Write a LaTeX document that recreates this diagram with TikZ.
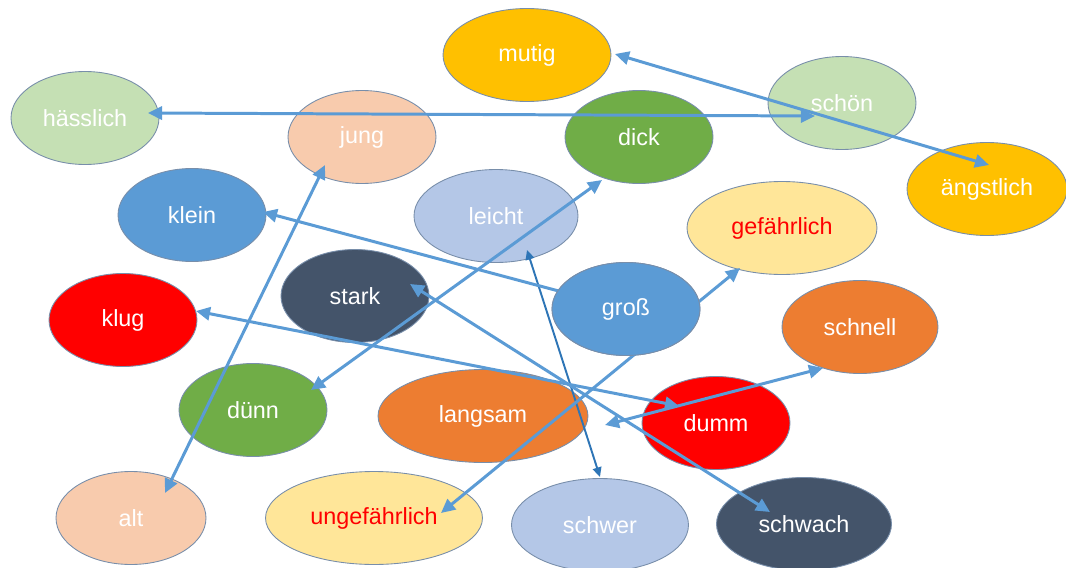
\documentclass[tikz,border=0pt]{standalone}
\usepackage{fontspec}
\setmainfont{Liberation Sans}
\usetikzlibrary{arrows.meta, shapes.geometric, positioning}
\definecolor{GoldFill}{RGB}{255,192,0}
\definecolor{MintFill}{RGB}{197,224,180}
\definecolor{PeachFill}{RGB}{248,203,173}
\definecolor{LeafFill}{RGB}{112,173,71}
\definecolor{SkyFill}{RGB}{91,155,213}
\definecolor{PaleBlue}{RGB}{180,199,231}
\definecolor{SandFill}{RGB}{255,230,153}
\definecolor{SlateFill}{RGB}{68,84,106}
\definecolor{RedFill}{RGB}{255,0,0}
\definecolor{OrangeFill}{RGB}{237,125,49}
\definecolor{EdgeGrey}{RGB}{120,142,170}
\definecolor{ArrowBlue}{RGB}{91,155,213}
\definecolor{ArrowDark}{RGB}{46,117,182}

\begin{document}
\begin{tikzpicture}[x=0.02cm,y=-0.02cm,
    ov/.style={ellipse,draw=EdgeGrey,line width=0.5pt,inner sep=0pt,
               minimum width=2.96cm,minimum height=1.86cm,
               text=white,font=\fontsize{13.3}{16}\selectfont},
    arr/.style={{Triangle[length=8pt,width=7.5pt]}-{Triangle[length=8pt,width=7.5pt]},
               draw=ArrowBlue,line width=1.7pt},
    arrone/.style={-{Triangle[length=8pt,width=7.5pt]},
               draw=ArrowBlue,line width=1.7pt},
    arrthin/.style={{Triangle[length=5.5pt,width=5pt]}-{Triangle[length=5.5pt,width=5pt]},
               draw=ArrowDark,line width=1.1pt}
  ]
    \useasboundingbox (0,0) rectangle (1066,568);
    % top rows
    \node[ov,fill=GoldFill,minimum width=3.36cm] (mutig) at (527,55) {mutig};
    \node[ov,fill=MintFill] (hass) at (85,118) {hässlich};
    \node[ov,fill=PeachFill] (jung) at (362,137) {jung};
    \node[ov,fill=LeafFill] (dick) at (639,137) {dick};
    \node[ov,fill=MintFill] (schoen) at (842,103) {schön};
    \node[ov,fill=GoldFill,minimum width=3.2cm] (angst) at (987,189) {ängstlich};
    \node[ov,fill=SkyFill] (klein) at (192,215) {klein};
    \node[ov,fill=PaleBlue,minimum width=3.28cm] (leicht) at (496,216) {leicht};
    \node[ov,fill=SandFill,text=RedFill,minimum width=3.8cm] (gef) at (782,228) {gefährlich};
    % middle rows
    \node[ov,fill=SlateFill] (stark) at (355,296) {stark};
    \node[ov,fill=RedFill] (klug) at (123,320) {klug};
    \node[ov,fill=OrangeFill,minimum width=3.12cm] (schnell) at (860,327) {schnell};
    \node[ov,fill=LeafFill] (duenn) at (253,410) {dünn};
    \node[ov,fill=OrangeFill,minimum width=4.2cm] (langsam) at (483,416) {langsam};
    \node[ov,fill=RedFill] (dumm) at (716,423) {dumm};
    % bottom row
    \node[ov,fill=PeachFill,minimum width=3.0cm] (alt) at (131,518) {alt};
    \node[ov,fill=SandFill,text=RedFill,minimum width=4.34cm] (ungef) at (374,518) {ungefährlich};
    \node[ov,fill=PaleBlue,minimum width=3.54cm] (schwer) at (600,525) {schwer};
    \node[ov,fill=SlateFill,minimum width=3.5cm] (schwach) at (804,524) {schwach};
    % opposites
    \draw[arr] ([shift={(63,-5)}]hass.center) -- ([shift={(-27,13)}]schoen.center);
    \draw[arr] ([shift={(88,-1)}]mutig.center) -- ([shift={(2,-24)}]angst.center);
    \draw[arr] ([shift={(-37,28)}]jung.center) -- ([shift={(34,-25)}]alt.center);
    \draw[arr] ([shift={(-37,43)}]dick.center) -- ([shift={(58,-20)}]duenn.center);
    \draw[arrthin] ([shift={(31,34)}]leicht.center) -- ([shift={(0,-48)}]schwer.center);
    \draw[arr] ([shift={(55,-12)}]stark.center) -- ([shift={(-34,-12)}]schwach.center);
    \draw[arr] ([shift={(73,-9)}]klug.center) -- ([shift={(-37,-17)}]dumm.center);
    \draw[arr] ([shift={(122,9)}]langsam.center) -- ([shift={(-37,41)}]schnell.center);
    \node[ov,fill=SkyFill] (gross) at (626,309) {};
    \draw[arrone] (gross.center) -- ([shift={(71,-3)}]klein.center);
    \draw[arr] ([shift={(-42,40)}]gef.center) -- ([shift={(67,-5)}]ungef.center);
    \node[ov,fill=SkyFill] at (gross) {groß};
  \end{tikzpicture}
\end{document}
